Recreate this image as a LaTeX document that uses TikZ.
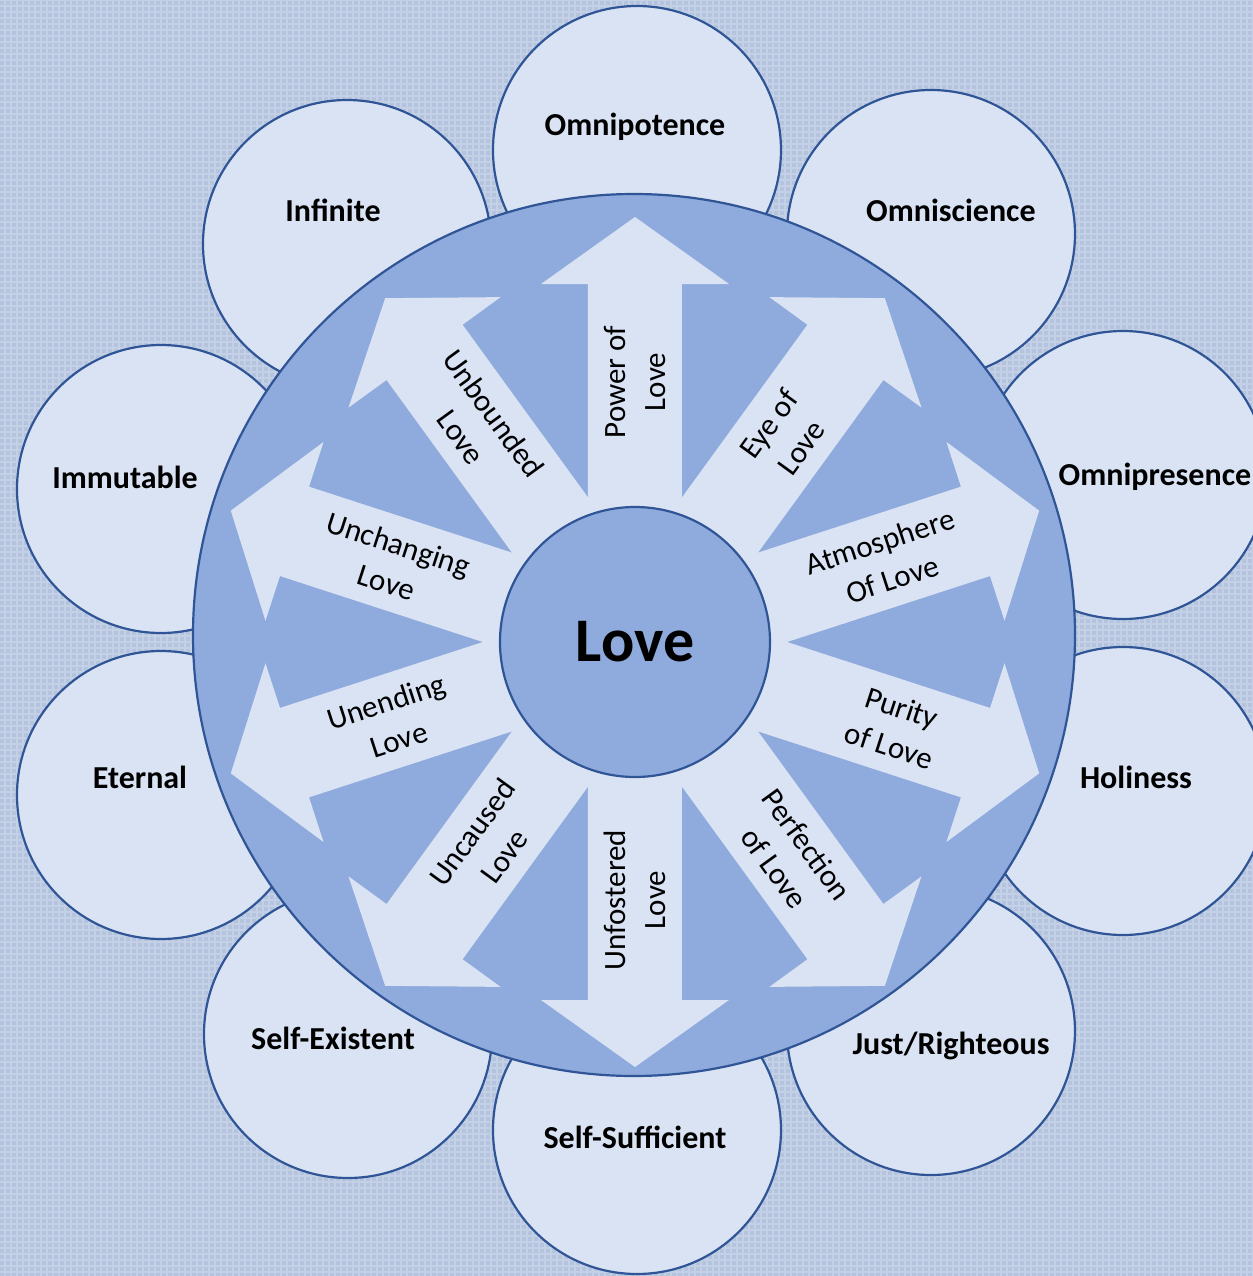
\documentclass[tikz,border=0pt]{standalone}
\usepackage{fontspec}
\setmainfont{Carlito}
\definecolor{lovebg}{HTML}{B4C4DE}
\definecolor{lovelight}{HTML}{DAE3F3}
\definecolor{lovemid}{HTML}{8FAADC}
\definecolor{loveline}{HTML}{2F5597}

\begin{document}
\begin{tikzpicture}[x=0.5pt, y=0.5pt,
  petal/.style={circle, draw=loveline, line width=1.1pt, fill=lovelight, minimum size=144pt, inner sep=0pt},
  petaltext/.style={font=\fontsize{16}{19}\selectfont\bfseries},
  armtext/.style={font=\fontsize{15.5}{20}\selectfont, align=center, inner sep=0pt}]

\useasboundingbox (-635,-634) rectangle (618,642);
\clip (-635,-634) rectangle (618,642);
\fill[lovebg] (-635,-634) rectangle (618,642);
% woven backdrop
\draw[white, opacity=0.22, line width=0.8pt, step=6] (-636,-636) grid (620,644);

% attributes round the ring
\node[petal] (omnipotence) at (2,492) {};
\node[petal] (omniscience) at (296,408) {};
\node[petal] (omnipresence) at (488,167) {};
\node[petal] (holiness) at (488,-149) {};
\node[petal] (just) at (296,-389) {};
\node[petal] (selfsufficient) at (2,-488) {};
\node[petal] (selfexistent) at (-287,-392) {};
\node[petal] (eternal) at (-474,-153) {};
\node[petal] (immutable) at (-474,153) {};
\node[petal] (infinite) at (-288,398) {};

\node[petaltext] (omnipotencetext) at (0,515) {Omnipotence};
\node[petaltext] (omnisciencetext) at (316,432) {Omniscience};
\node[petaltext] (omnipresencetext) at (520,165) {Omnipresence};
\node[petaltext] (holinesstext) at (501,-135) {Holiness};
\node[petaltext] (justtext) at (316,-404) {Just/Righteous};
\node[petaltext] (selfsufficienttext) at (0,-495) {Self-Sufficient};
\node[petaltext] (selfexistenttext) at (-302,-396) {Self-Existent};
\node[petaltext] (eternaltext) at (-495,-135) {Eternal};
\node[petaltext] (immutabletext) at (-510,165) {Immutable};
\node[petaltext] (infinitetext) at (-302,432) {Infinite};

% big ring
\node[circle, draw=loveline, line width=1.1pt, fill=lovemid, minimum size=441pt, inner sep=0pt] (ring) at (-1,7) {};

% ten arrows
\foreach \a in {90,54,18,-18,-54,-90,-126,-162,162,126}
  \fill[lovelight, rotate=\a] (0,-47) -- (358,-47) -- (358,-94) -- (425,0) -- (358,94) -- (358,47) -- (0,47) -- cycle;

\foreach \a/\d/\r/\t [count=\i] in {90/260/90/{Power of\\Love}, 54/255/54/{Eye of\\Love},
    18/264/18/{Atmosphere\\Of Love}, -18/274/-18/{Purity\\of Love},
    -54/265/-54/{Perfection\\of Love}, -90/258/90/{Unfostered\\Love},
    -126/250/54/{Uncaused\\Love}, -162/255/18/{Unending\\Love},
    162/255/-18/{Unchanging\\Love}, 126/268/-54/{Unbounded\\Love}}
  \node[armtext, rotate=\r] (arm\i) at (\a:\d) {\t};

% hub
\node[circle, draw=loveline, line width=1.1pt, fill=lovemid, minimum size=135pt, inner sep=0pt,
  font=\fontsize{31}{36}\selectfont\bfseries] (love) at (0,0) {Love};

\end{tikzpicture}
\end{document}
